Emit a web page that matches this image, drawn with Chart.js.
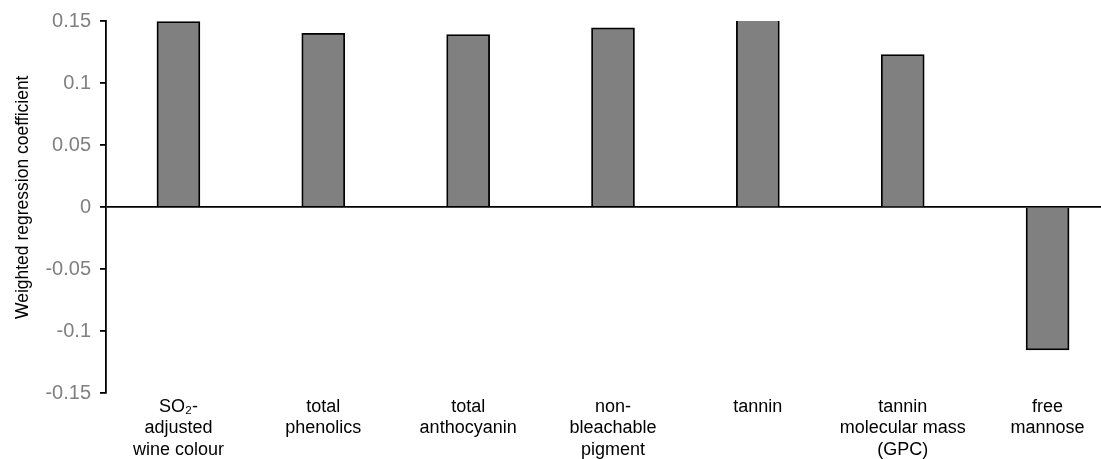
<!DOCTYPE html>
<html>
<head>
<meta charset="utf-8">
<script src="https://cdn.jsdelivr.net/npm/chart.js@4"></script>
<style>
  html, body { margin: 0; padding: 0; background: #fff; overflow: hidden; }
  #wrap { position: relative; width: 1120px; height: 459px; }
</style>
</head>
<body>
<div id="wrap"><canvas id="c"></canvas></div>
<script>
const categories = [
  ["SO\u2082-", "adjusted", "wine colour"],
  ["total", "phenolics"],
  ["total", "anthocyanin"],
  ["non-", "bleachable", "pigment"],
  ["tannin"],
  ["tannin", "molecular mass", "(GPC)"],
  ["free", "mannose"]
];
const coefficients = [0.1495, 0.140, 0.139, 0.1445, 0.16, 0.123, -0.1153];
const yTicks = [-0.15, -0.1, -0.05, 0, 0.05, 0.1, 0.15];
const yTitle = "    Weighted regression coefficient";

const FONT = "'Liberation Sans', Arial, sans-serif";

new Chart(document.getElementById('c'), {
  type: 'bar',
  data: {
    labels: categories,
    datasets: [{
      data: coefficients,
      backgroundColor: '#808080',
      borderColor: '#000000',
      borderWidth: 1.8,
      barThickness: 43,
      clip: 0
    }]
  },
  options: {
    responsive: true,
    maintainAspectRatio: false,
    animation: false,
    layout: { padding: { top: 21, left: 0, right: 0, bottom: 0 } },
    plugins: { legend: { display: false }, tooltip: { enabled: false } },
    scales: {
      x: {
        grid: { display: false, drawTicks: false },
        border: { display: false },
        ticks: {
          color: '#000',
          font: { family: FONT, size: 18, lineHeight: 1.2 },
          padding: 3,
          maxRotation: 0,
          autoSkip: false
        },
        afterFit: (s) => { s.height = 66; }
      },
      y: {
        min: -0.15,
        max: 0.15,
        afterBuildTicks: (s) => { s.ticks = yTicks.map(v => ({ value: v })); },
        ticks: {
          color: '#808080',
          font: { family: FONT, size: 20 },
          padding: 9,
          callback: (v) => String(Math.round(v * 100) / 100)
        },
        grid: {
          color: (ctx) => (ctx.tick && ctx.tick.value === 0) ? '#000' : 'rgba(0,0,0,0)',
          lineWidth: 1.8,
          tickColor: '#000',
          tickLength: 6,
          drawOnChartArea: true
        },
        border: { display: true, color: '#000', width: 1.8 },
        title: {
          display: true,
          text: yTitle,
          color: '#000',
          font: { family: FONT, size: 17.5 },
          padding: { top: 13, bottom: 0 }
        },
        afterFit: (s) => { s.width = 106; }
      }
    }
  }
});
</script>
</body>
</html>
